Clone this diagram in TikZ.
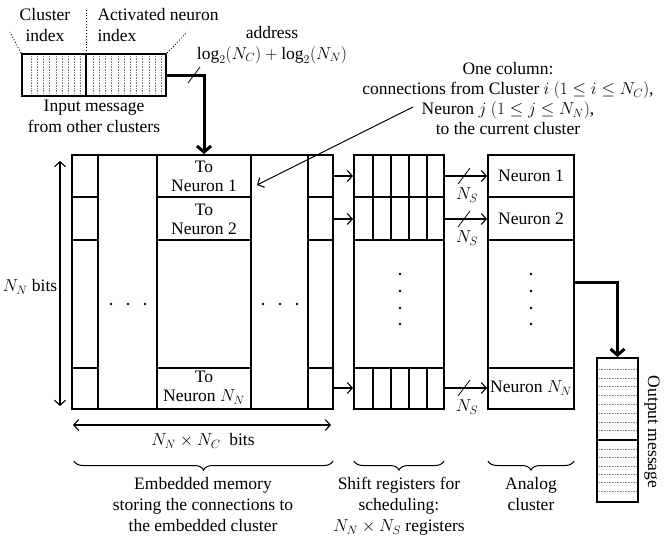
\documentclass[tikz,border=0pt]{standalone}
\usepackage{fontspec}
\setmainfont{Liberation Serif}
\usetikzlibrary{arrows.meta,positioning,calc,decorations.pathreplacing}

\begin{document}
\begin{tikzpicture}[x=1pt,y=-1pt,
  font=\fontsize{17.5}{21}\selectfont,
  blk/.style={draw,line width=2pt,inner sep=0pt},
  thinline/.style={line width=1.1pt},
  arr/.style={-{Straight Barb[length=5pt,width=11pt]},line width=1.1pt},
  darr/.style={{Straight Barb[length=5pt,width=11pt]}-{Straight Barb[length=5pt,width=11pt]},line width=1.1pt},
  bigarr/.style={-{Straight Barb[length=6pt,width=14pt]},line width=3pt},
  cell/.style={align=center,font=\fontsize{17.5}{19}\selectfont},
  fill dots/.style={gray,densely dotted,line width=0.6pt},
  brc/.style={decorate,decoration={brace,amplitude=9pt},line width=1pt}]
\useasboundingbox (0,0) rectangle (665,542);

% input message
\node[blk,minimum width=144pt,minimum height=42pt] (inmsg) at (94,75) {};
\foreach \x in {0,...,8} \draw[fill dots] (31+6.2*\x,56) -- (31+6.2*\x,94);
\foreach \x in {0,...,11} \draw[fill dots] (93+6.2*\x,56) -- (93+6.2*\x,94);
\draw[line width=1.4pt] (86,54) -- (86,96);
\draw[dotted,line width=0.9pt] (inmsg.north west) -- (10,32);
\draw[dotted,line width=0.9pt] (86,54) -- (86,8);
\draw[dotted,line width=0.9pt] (inmsg.north east) -- (187,32);
\node[align=center] (clidx) at (45,25) {Cluster\\index};
\node[align=left,anchor=west] (neuidx) at (94,25) {Activated neuron\\index};
\node[below=0pt of inmsg,align=center] (inlbl) {Input message\\from other clusters};
\node[align=center] (addr) at (272,45) {address\\$\log_2(N_C)+\log_2(N_N)$};

% embedded memory
\node[blk,minimum width=261pt,minimum height=254pt] (mem) at (202.5,282) {};
\draw[thinline] (98,155) -- (98,409) (308,155) -- (308,409);
\foreach \y in {197,240,368} \draw[thinline] (72,\y) -- (98,\y) (308,\y) -- (333,\y);
\draw[line width=2.4pt] (157,155) rectangle (251,409);
\foreach \y in {197,240,368} \draw[line width=2.4pt] (157,\y) -- (251,\y);
\node[cell] (n1) at (204,176) {To\\Neuron 1};
\node[cell] (n2) at (204,219) {To\\Neuron 2};
\node[cell] (nN) at (204,388) {To\\Neuron $N_N$};
\foreach \x in {111,128,145,263,280,297} \fill (\x,304) circle (1.4pt);

% shift registers
\node[blk,minimum width=90pt,minimum height=254pt] (sr) at (399,282) {};
\foreach \y in {197,240,368} \draw[thinline] (354,\y) -- (444,\y);
\foreach \x in {373,391,409,427} \draw[thinline] (\x,155) -- (\x,240) (\x,368) -- (\x,409);
\foreach \y in {274,291,308,324} \fill (400,\y) circle (1.4pt);

% analog cluster
\node[blk,minimum width=86pt,minimum height=254pt] (ana) at (531,282) {};
\foreach \y in {197,240,368} \draw[thinline] (488,\y) -- (574,\y);
\node (a1) at (531,176) {Neuron 1};
\node (a2) at (531,219) {Neuron 2};
\node (aN) at (531,388) {Neuron $N_N$};
\foreach \y in {274,291,308,324} \fill (531,\y) circle (1.4pt);

% row connections
\foreach \r in {n1,n2,nN} {
  \draw[arr] (mem.east |- \r) -- (sr.west |- \r);
  \draw[arr] (sr.east |- \r) -- (ana.west |- \r);
  \draw[line width=0.8pt] ($(sr.east |- \r)+(13,8)$) -- ++(12,-16);
  \node at ($(sr.east |- \r)+(22,19)$) {$N_S$};
}

% output message
\node[blk,minimum width=41pt,minimum height=144pt] (outmsg) at (617.5,430) {};
\draw[thinline] (597,440) -- (638,440);
\foreach \y in {0,...,7} \draw[fill dots] (599,369+8.8*\y) -- (636,369+8.8*\y);
\foreach \y in {0,...,5} \draw[fill dots] (599,449+8.4*\y) -- (636,449+8.4*\y);
\node[rotate=-90] (outlbl) at (652,432) {Output message};

% thick data paths
\draw[bigarr] (inmsg.east) -| (mem.north -| n1);
\draw[line width=0.8pt] (188,83) -- (200,67);
\draw[bigarr] (ana.east) -| (outmsg.north);

% one column note
\node[align=center,font=\fontsize{17.5}{20}\selectfont] (colnote) at (508,99)
  {One column:\\connections from Cluster $i$ $(1\le i\le N_C)$,\\Neuron $j$ $(1\le j\le N_N)$,\\to the current cluster};
\coordinate (ptr) at (413,107);
\coordinate (ptrTip) at (257,185);
\draw[arr] (ptr) -- (ptrTip);

% dimensions
\draw[darr] ($(mem.north west)+(-11,7)$) -- ($(mem.south west)+(-11,-4)$);
\node (nnbits) at (30,287) {$N_N$ bits};
\draw[darr] ($(mem.south west)+(2,15)$) -- ($(mem.south east)+(-3,15)$);
\node (nnnc) at (203,441) {$N_N\times N_C$\ \ bits};

% braces
\draw[brc] (333,461) -- (74,461);
\draw[brc] (444,461) -- (354,461);
\draw[brc] (574,461) -- (488,461);
\node[below,align=center] (memlbl) at (203,474) {Embedded memory\\storing the connections to\\the embedded cluster};
\node[below,align=center] (srlbl) at (399,474) {Shift registers for\\scheduling:\\$N_N\times N_S$ registers};
\node[below,align=center] (analbl) at (531,474) {Analog\\cluster};
\end{tikzpicture}
\end{document}
